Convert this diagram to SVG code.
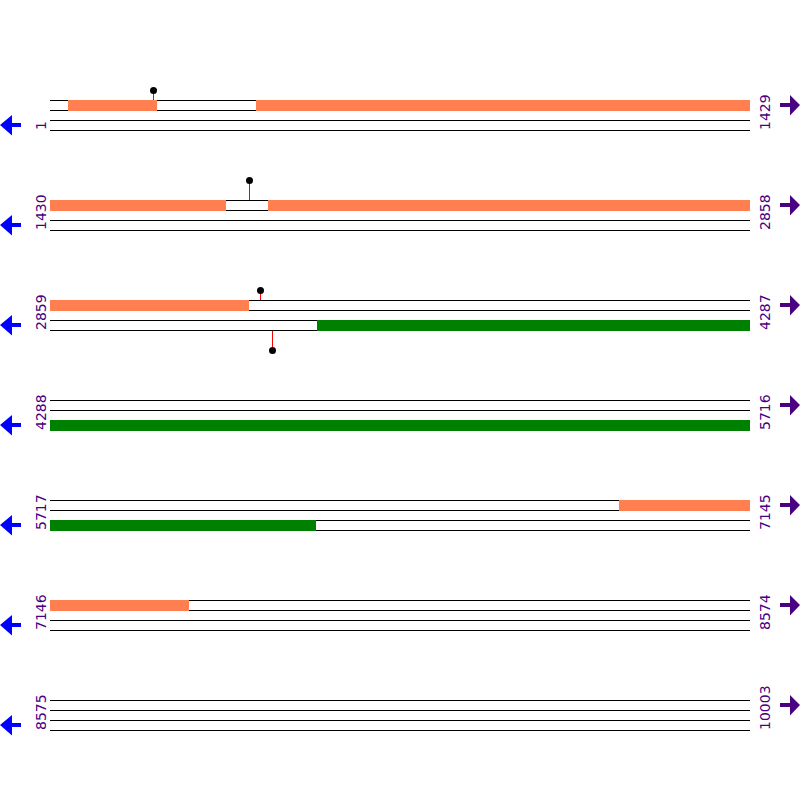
<svg xmlns="http://www.w3.org/2000/svg" width="800" height="800" viewBox="0 0 800 800">
<style>
.ln{stroke:#000;stroke-width:1;fill:none}
.fw{fill:#FF7F50}
.rv{fill:#008000}
.stem{stroke:#FF0000;stroke-width:1}
.dot{fill:#000}
.lbl{font-family:"DejaVu Sans",sans-serif;font-size:14px;fill:#4B0082}
.la{fill:#0000FF}
.ra{fill:#4B0082}
</style>
<defs>
<g id="rowlines">
<line class="ln" x1="50" y1="0.5" x2="750" y2="0.5"/>
<line class="ln" x1="50" y1="10.5" x2="750" y2="10.5"/>
<line class="ln" x1="50" y1="20.5" x2="750" y2="20.5"/>
<line class="ln" x1="50" y1="30.5" x2="750" y2="30.5"/>
</g>
<polygon id="larrow" points="0,25 12,15 12,23 21,23 21,27 12,27 12,35.5"/>
<polygon id="rarrow" points="780,103 790,103 790,95 800,105 790,115.5 790,107 780,107"/>
</defs>
<rect width="800" height="800" fill="#fff"/>
<g id="row1" transform="translate(0,100)">
<use href="#rowlines"/>
<rect class="fw" x="68" y="0" width="89" height="11"/>
<rect class="fw" x="256" y="0" width="494" height="11"/>
<use href="#larrow" class="la"/>
<use href="#rarrow" class="ra" transform="translate(0,-100)"/>
<text class="lbl" transform="translate(46,30) rotate(-90)">1</text>
<text class="lbl" transform="translate(770,30) rotate(-90)">1429</text>
</g>
<g id="row2" transform="translate(0,200)">
<use href="#rowlines"/>
<rect class="fw" x="50" y="0" width="176" height="11"/>
<rect class="fw" x="268" y="0" width="482" height="11"/>
<use href="#larrow" class="la"/>
<use href="#rarrow" class="ra" transform="translate(0,-100)"/>
<text class="lbl" transform="translate(46,30) rotate(-90)">1430</text>
<text class="lbl" transform="translate(770,30) rotate(-90)">2858</text>
</g>
<g id="row3" transform="translate(0,300)">
<use href="#rowlines"/>
<rect class="fw" x="50" y="0" width="199" height="11"/>
<rect class="rv" x="317" y="20" width="433" height="11"/>
<use href="#larrow" class="la"/>
<use href="#rarrow" class="ra" transform="translate(0,-100)"/>
<text class="lbl" transform="translate(46,30) rotate(-90)">2859</text>
<text class="lbl" transform="translate(770,30) rotate(-90)">4287</text>
</g>
<g id="row4" transform="translate(0,400)">
<use href="#rowlines"/>
<rect class="rv" x="50" y="20" width="700" height="11"/>
<use href="#larrow" class="la"/>
<use href="#rarrow" class="ra" transform="translate(0,-100)"/>
<text class="lbl" transform="translate(46,30) rotate(-90)">4288</text>
<text class="lbl" transform="translate(770,30) rotate(-90)">5716</text>
</g>
<g id="row5" transform="translate(0,500)">
<use href="#rowlines"/>
<rect class="fw" x="619" y="0" width="131" height="11"/>
<rect class="rv" x="50" y="20" width="266" height="11"/>
<use href="#larrow" class="la"/>
<use href="#rarrow" class="ra" transform="translate(0,-100)"/>
<text class="lbl" transform="translate(46,30) rotate(-90)">5717</text>
<text class="lbl" transform="translate(770,30) rotate(-90)">7145</text>
</g>
<g id="row6" transform="translate(0,600)">
<use href="#rowlines"/>
<rect class="fw" x="50" y="0" width="139" height="11"/>
<use href="#larrow" class="la"/>
<use href="#rarrow" class="ra" transform="translate(0,-100)"/>
<text class="lbl" transform="translate(46,30) rotate(-90)">7146</text>
<text class="lbl" transform="translate(770,30) rotate(-90)">8574</text>
</g>
<g id="row7" transform="translate(0,700)">
<use href="#rowlines"/>
<use href="#larrow" class="la"/>
<use href="#rarrow" class="ra" transform="translate(0,-100)"/>
<text class="lbl" transform="translate(46,30) rotate(-90)">8575</text>
<text class="lbl" transform="translate(770,30) rotate(-90)">10003</text>
</g>
<g id="pins">
<line class="stem" x1="153.5" y1="91" x2="153.5" y2="100"/>
<circle class="dot" cx="153.5" cy="90.5" r="3.5"/>
<line class="stem" x1="249.5" y1="181" x2="249.5" y2="200"/>
<circle class="dot" cx="249.5" cy="180.5" r="3.5"/>
<line class="stem" x1="260.5" y1="291" x2="260.5" y2="300"/>
<circle class="dot" cx="260.5" cy="290.5" r="3.5"/>
<line class="stem" x1="272.5" y1="331" x2="272.5" y2="350"/>
<circle class="dot" cx="272.5" cy="350.5" r="3.5"/>
</g>
</svg>
